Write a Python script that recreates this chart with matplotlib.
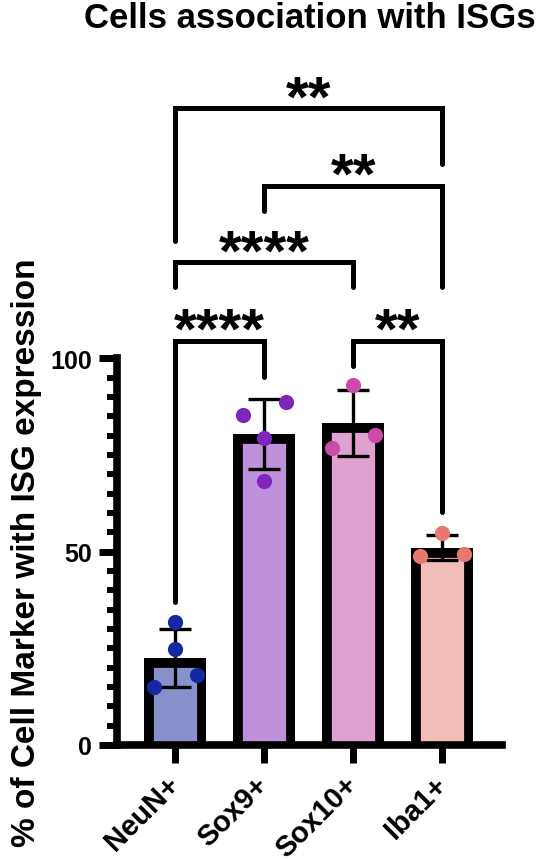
import numpy as np
import matplotlib
matplotlib.use("Agg")
import matplotlib.pyplot as plt
from matplotlib.patches import Rectangle
from matplotlib.ticker import FixedLocator

plt.rcParams['font.family'] = ['Liberation Sans', 'DejaVu Sans']
plt.rcParams['font.weight'] = 'bold'

# ── data ─────────────────────────────────────────────────────────────────────
groups = ["NeuN+", "Sox9+", "Sox10+", "Iba1+"]
neun  = [31.8, 24.8, 18.1, 15.0]
sox9  = [85.3, 88.7, 79.4, 68.3]
sox10 = [93.0, 80.2, 76.8]
iba1  = [54.8, 48.9, 49.4]
values = [neun, sox9, sox10, iba1]

# pairwise comparisons: (group a, group b, stars)
comparisons = [(0, 3, "**"), (1, 3, "**"), (0, 2, "****"), (0, 1, "****"), (2, 3, "**")]

# ── layout / style ───────────────────────────────────────────────────────────
fills = ["#8991CD", "#BF91DB", "#DFA1D0", "#F2BCB9"]
dots  = ["#1428A0", "#7D26B8", "#C84CA8", "#E8786F"]
jitter = [[0, 0, 0.25, -0.23], [-0.24, 0.25, 0, 0], [0, 0.25, -0.24], [0, -0.25, 0.24]]
# bracket geometry: bar height, left leg end, right leg end
bracket_y = [(164.7, 130.3, 150.2), (144.6, 138.1, 118.4), (124.9, 118.4, 118.4),
             (104.5, 37.0, 95.2), (104.5, 98.0, 60.3)]
BAR_SINK = 4   # bars start a bit below 0 so the inner border hides under the axis

W, H = 549, 862
fig = plt.figure(figsize=(W / 100, H / 100), dpi=100)
ax = fig.add_axes([117 / W, 1 - 746 / H, (502 - 117) / W, (746 - 50) / H])

x = np.arange(len(groups))
means = np.array([np.mean(v) for v in values])
sds = np.array([np.std(v, ddof=1) for v in values])

bars = ax.bar(x, means + BAR_SINK, bottom=-BAR_SINK, width=0.7, color=fills,
              edgecolor="black", linewidth=13.5, zorder=2)
for b, m in zip(bars, means):
    # clip to the visible part of the bar: thick border stays inside, bottom edge hidden
    b.set_clip_path(Rectangle((b.get_x(), 0), b.get_width(), m, transform=ax.transData))

ax.errorbar(x, means, yerr=sds, fmt="none", ecolor="black", elinewidth=2.4,
            capsize=11.5, capthick=2.4, zorder=3)

for i, v in enumerate(values):
    ax.scatter(x[i] + np.array(jitter[i]), v, s=120, color=dots[i], linewidths=0, zorder=4)

for (a, b, lab), (yh, ya, yb) in zip(comparisons, bracket_y):
    ax.plot([x[a], x[a], x[b], x[b]], [ya, yh, yh, yb], color="black", lw=3.6,
            solid_capstyle="round", solid_joinstyle="miter", clip_on=False, zorder=5)
    ax.annotate(lab, ((x[a] + x[b]) / 2, yh + 6.8), xytext=(0, -24), textcoords="offset points",
                ha="center", va="baseline", fontsize=42, fontweight="bold", annotation_clip=False)

ax.set_xlim(-0.65, 3.67)
ax.set_ylim(0, 180)
for s in ["top", "right"]:
    ax.spines[s].set_visible(False)
for s in ["left", "bottom"]:
    ax.spines[s].set_linewidth(5.5)
    ax.spines[s].set_zorder(6)
ax.spines["left"].set_bounds(0, 100)

ax.set_yticks([0, 50, 100])
ax.yaxis.set_minor_locator(FixedLocator(np.arange(0, 101, 5)))
ax.tick_params(axis="y", which="major", length=13, width=5, pad=5, labelsize=18)
ax.tick_params(axis="y", which="minor", length=7, width=4.3)
ax.set_xticks(x)
ax.set_xticklabels(groups, rotation=45, ha="right", va="center", rotation_mode="anchor")
ax.tick_params(axis="x", which="major", length=13, width=5, pad=12, labelsize=21)

fig.text(309.5 / W, 1 - 28 / H, "Cells association with ISGs", ha="center", va="baseline",
         fontsize=25, fontweight="bold")
fig.text(27 / W, 1 - 553 / H, "% of Cell Marker with ISG expression", rotation=90,
         ha="center", va="center", fontsize=24, fontweight="bold")

fig.savefig("out.png", dpi=100)
